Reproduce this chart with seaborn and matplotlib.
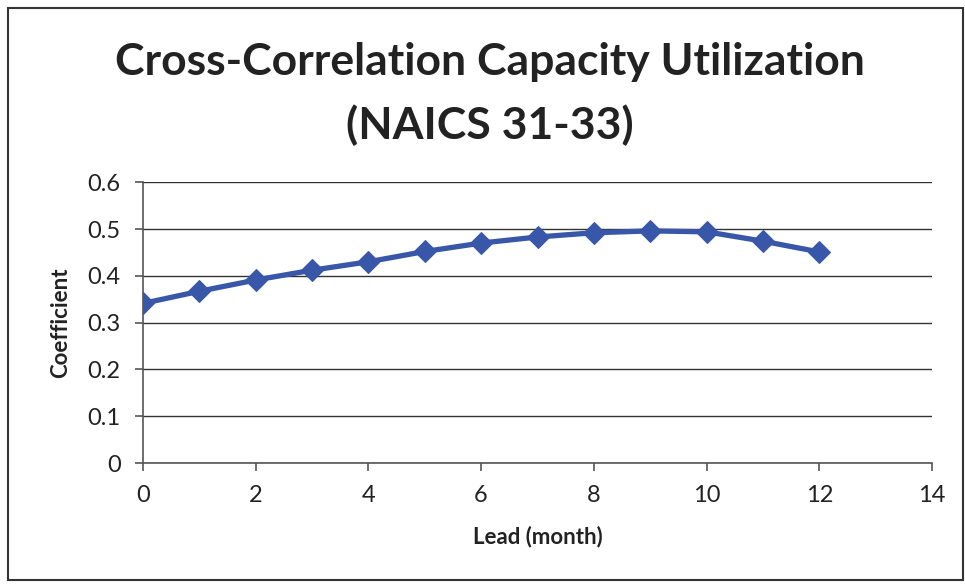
import matplotlib
matplotlib.use("Agg")
import matplotlib.pyplot as plt
import seaborn as sns
import pandas as pd
from matplotlib.patches import Rectangle

lead = [0, 1, 2, 3, 4, 5, 6, 7, 8, 9, 10, 11, 12]
coefficient = [0.341, 0.367, 0.391, 0.412, 0.430, 0.452, 0.470, 0.483, 0.492, 0.496, 0.494, 0.474, 0.451]
x_ticks = [0, 2, 4, 6, 8, 10, 12, 14]
y_ticks = [0, 0.1, 0.2, 0.3, 0.4, 0.5, 0.6]
y_tick_labels = ["0", "0.1", "0.2", "0.3", "0.4", "0.5", "0.6"]

sns.set_theme(style="white")
plt.rcParams['font.family'] = ['Lato', 'DejaVu Sans']

df = pd.DataFrame({"Lead": lead, "Coefficient": coefficient})

fig = plt.figure(figsize=(9.65, 5.84), dpi=100)
ax = fig.add_axes([0.148, 0.207, 0.818, 0.481])

color = "#3857A8"
sns.lineplot(data=df, x="Lead", y="Coefficient", ax=ax, color=color, linewidth=3.8,
             marker="D", markersize=11, markeredgecolor=color, markerfacecolor=color, zorder=3)

ax.set_xlim(0, 14)
ax.set_ylim(0, 0.6)
ax.set_xticks(x_ticks)
ax.set_xticklabels([str(t) for t in x_ticks], fontsize=17, color="#222222")
ax.set_yticks(y_ticks)
ax.set_yticklabels(y_tick_labels, fontsize=17, color="#222222")
ax.yaxis.grid(True, color="#333333", linewidth=1.0)
ax.xaxis.grid(False)
for s in ["top", "right"]:
    ax.spines[s].set_visible(False)
for s in ["left", "bottom"]:
    ax.spines[s].set_color("#555555")
    ax.spines[s].set_linewidth(1.2)
ax.tick_params(axis="both", which="major", direction="out", length=6, width=1.2,
               color="#555555", bottom=True, left=True, pad=10)
ax.set_xlabel("Lead (month)", fontsize=16, fontweight="bold", labelpad=14, color="#222222")
ax.set_ylabel("Coefficient", fontsize=16, fontweight="bold", labelpad=12, color="#222222")

fig.text(0.508, 0.893, "Cross-Correlation Capacity Utilization", ha="center", va="center",
         fontsize=32, fontweight="bold", color="#222222")
fig.text(0.508, 0.785, "(NAICS 31-33)", ha="center", va="center",
         fontsize=32, fontweight="bold", color="#222222")

fig.patches.append(Rectangle((0.008, 0.006), 0.99, 0.98, transform=fig.transFigure,
                             fill=False, edgecolor="#333333", linewidth=1.5))

fig.savefig("out.png", dpi=100)
